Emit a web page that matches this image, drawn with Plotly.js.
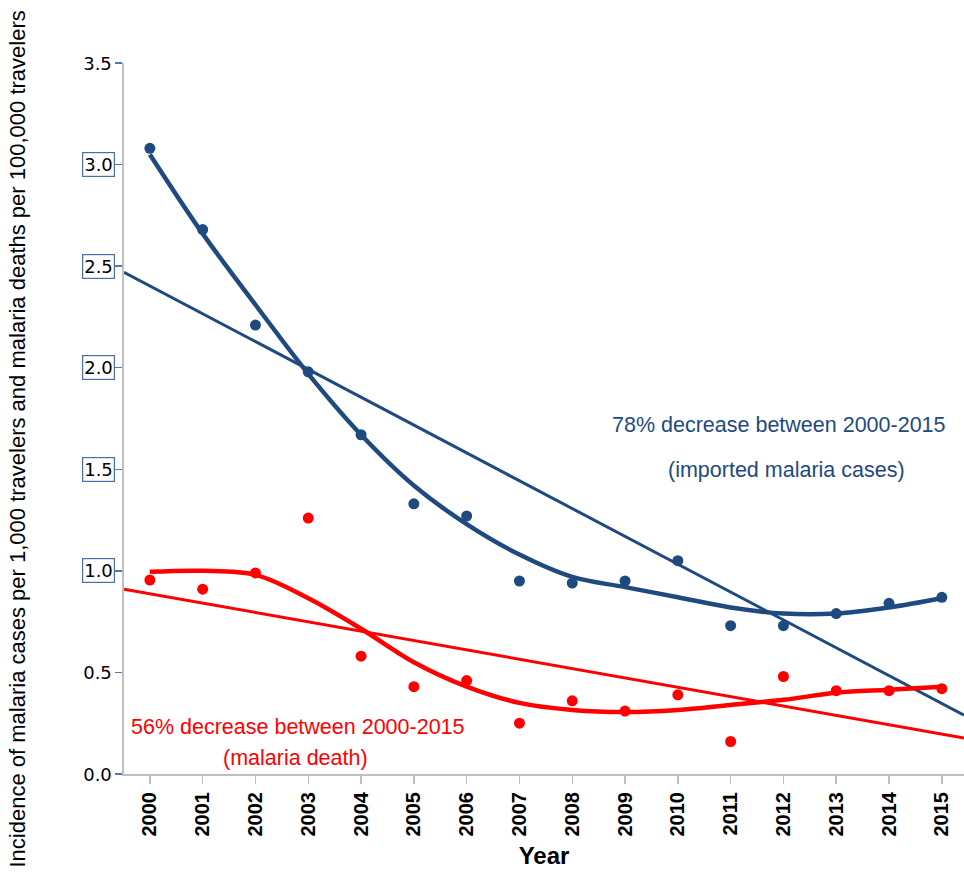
<!DOCTYPE html>
<html>
<head>
<meta charset="utf-8">
<script src="https://cdn.plot.ly/plotly-3.0.1.min.js"></script>
<style>html,body{margin:0;padding:0;background:#fff;}#chart{width:964px;height:877px;}</style>
</head>
<body>
<div id="chart"></div>
<script>
// ---- data ----
var years = [2000,2001,2002,2003,2004,2005,2006,2007,2008,2009,2010,2011,2012,2013,2014,2015];
var casesObs = [3.08,2.68,2.21,1.98,1.67,1.33,1.27,0.95,0.94,0.95,1.05,0.73,0.73,0.79,0.84,0.87];
var deathsObs = [0.955,0.91,0.99,1.26,0.58,0.43,0.46,0.25,0.36,0.31,0.39,0.16,0.48,0.41,0.41,0.42];
var casesFit = [3.05,2.66,2.31,1.97,1.67,1.42,1.23,1.08,0.97,0.92,0.87,0.82,0.79,0.79,0.82,0.865];
var deathsFit = [0.995,1.0,0.98,0.865,0.715,0.55,0.43,0.35,0.315,0.305,0.315,0.34,0.365,0.40,0.415,0.43];
var trendYears = [1999.51,2015.42];
var casesTrend = [2.47,0.29];
var deathsTrend = [0.91,0.177];
var yTickVals = [0,0.5,1.0,1.5,2.0,2.5,3.0,3.5];
var yTickText = ["0.0","0.5","1.0","1.5","2.0","2.5","3.0","3.5"];
var yBoxed = [false,false,true,true,true,true,true,false];
var xTickText = years.map(String);
var yTitle = "Incidence of malaria cases per 1,000 travelers and malaria deaths per 100,000 travelers";
var casesLabel = ["78% decrease between 2000-2015","(imported malaria cases)"];
var deathsLabel = ["56% decrease between 2000-2015","(malaria death)"];

var BLUE = "#1f4a80", RED = "#ff0000";

var traces = [
  {x: trendYears, y: casesTrend, mode: "lines", line: {color: BLUE, width: 3}, hoverinfo: "skip"},
  {x: trendYears, y: deathsTrend, mode: "lines", line: {color: RED, width: 3}, hoverinfo: "skip"},
  {x: years, y: casesFit, mode: "lines", line: {color: BLUE, width: 4.5, shape: "spline", smoothing: 1}},
  {x: years, y: deathsFit, mode: "lines", line: {color: RED, width: 4.5, shape: "spline", smoothing: 1}},
  {x: years, y: casesObs, mode: "markers", marker: {color: BLUE, size: 11}},
  {x: years, y: deathsObs, mode: "markers", marker: {color: RED, size: 11}}
];

var annotations = [];
yTickVals.forEach(function(v, i){
  var a = {xref: "paper", yref: "y", x: 0, y: v, xanchor: "right", yanchor: "middle",
    xshift: -9, text: yTickText[i], showarrow: false,
    font: {family: "DejaVu Sans, Liberation Sans, sans-serif", size: 18, color: "#000"}};
  if (yBoxed[i]) { a.bordercolor = "#4a6fa8"; a.borderwidth = 1.2; a.borderpad = 1; }
  else { a.borderpad = 2.2; }
  annotations.push(a);
});
annotations.push({xref: "paper", yref: "paper", x: 0, y: 0.5, xanchor: "center", yanchor: "middle",
  xshift: -107, yshift: -21, textangle: -90, text: yTitle, showarrow: false,
  font: {family: "Liberation Sans, Arial, sans-serif", size: 22, color: "#000"}});
var txtFont = function(c){ return {family: "Liberation Sans, Arial, sans-serif", size: 21.5, color: c}; };
annotations.push({x: 2011.91, y: 1.718, text: casesLabel[0], showarrow: false, font: txtFont(BLUE)});
annotations.push({x: 2012.06, y: 1.497, text: casesLabel[1], showarrow: false, font: txtFont(BLUE)});
annotations.push({x: 2002.80, y: 0.231, text: deathsLabel[0], showarrow: false, font: txtFont(RED)});
annotations.push({x: 2002.75, y: 0.079, text: deathsLabel[1], showarrow: false, font: txtFont(RED)});

var layout = {
  width: 964, height: 877,
  margin: {l: 124, r: 0, t: 63, b: 103},
  paper_bgcolor: "#fff", plot_bgcolor: "#fff",
  showlegend: false,
  xaxis: {
    range: [1999.51, 2015.42], tickvals: years, ticktext: xTickText,
    tickangle: -90, ticks: "outside", ticklen: 8, tickcolor: "#bfbfbf", tickwidth: 1.5,
    showline: true, linecolor: "#bfbfbf", linewidth: 2, showgrid: false, zeroline: false,
    tickfont: {family: "Liberation Sans, Arial, sans-serif", size: 20, color: "#000", weight: "bold"},
    title: {text: "<b>Year</b>", standoff: 12, font: {family: "Liberation Sans, Arial, sans-serif", size: 24, color: "#000"}}
  },
  yaxis: {
    range: [0, 3.5], tickvals: yTickVals, showticklabels: false,
    ticks: "outside", ticklen: 7, tickcolor: "#4f78b0", tickwidth: 1.5,
    showline: true, linecolor: "#bfbfbf", linewidth: 2, showgrid: false, zeroline: false
  },
  annotations: annotations
};

Plotly.newPlot("chart", traces, layout, {staticPlot: true});
</script>
</body>
</html>
